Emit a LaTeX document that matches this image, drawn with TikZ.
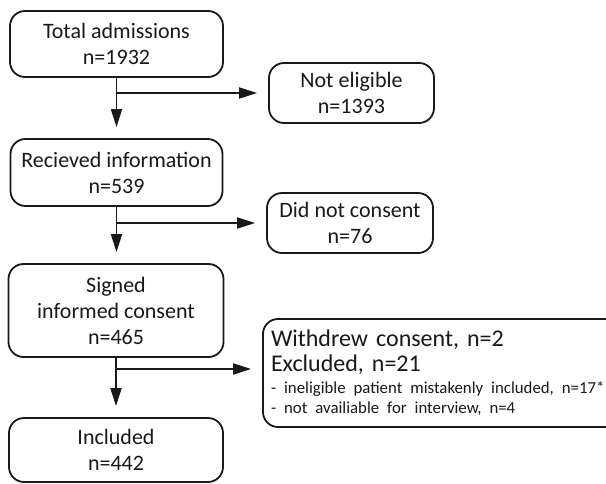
\documentclass[tikz,border=0pt]{standalone}
\usepackage{fontspec}
\setmainfont{Carlito}
\usepackage{tikz}
\usetikzlibrary{arrows.meta,positioning}
\definecolor{flowblack}{RGB}{25,25,25}

\begin{document}
\begin{tikzpicture}[x=0.5pt,y=-0.5pt,
  flowbox/.style={draw=flowblack, line width=0.9pt, rounded corners=7.5pt, align=center, inner sep=0pt, text=flowblack, font=\fontsize{11}{13}\selectfont},
  flowarrow/.style={draw=flowblack, line width=0.9pt, -{Triangle[length=9pt,width=5.5pt]}, shorten >=5.5pt}]
\clip (0,0) rectangle (606,483);
\fill[white] (0,0) rectangle (606,483);
\node[flowbox, minimum width=106.5pt, minimum height=33pt] (total) at (116.5,44) {Total admissions\\n=1932};
\node[flowbox, minimum width=82.5pt, minimum height=30pt] (noteli) at (351.5,93) {Not eligible\\n=1393};
\node[flowbox, minimum width=106pt, minimum height=33.5pt] (recv) at (116.5,172.5) {Recieved information\\n=539};
\node[flowbox, minimum width=83pt, minimum height=30pt] (nocons) at (350,223) {Did not consent\\n=76};
\node[flowbox, minimum width=107.5pt, minimum height=46.5pt] (signed) at (116,310.5) {Signed\\informed consent\\n=465};
\node[flowbox, align=left, text width=200pt, inner xsep=4pt, minimum height=54pt, font=\fontsize{12}{12.5}\selectfont] (withdrew) at (471,373)
  {Withdrew consent, n=2\\Excluded, n=21\\[-1.5pt]{\fontsize{8.4}{10}\selectfont - ineligible patient mistakenly included, n=17*}\\[-2.5pt]{\fontsize{8.4}{10}\selectfont - not availiable for interview, n=4}};
\node[flowbox, minimum width=107pt, minimum height=32pt] (included) at (116,450) {Included\\n=442};
\path (signed.south |- withdrew.west) ++(0,-4) coordinate (wbranch);
\draw[flowarrow] (total.south) -- (total.south |- recv.north);
\draw[flowarrow] (total.south |- noteli.west) -- (noteli.west);
\draw[flowarrow] (recv.south) -- (recv.south |- signed.north);
\draw[flowarrow] (recv.south |- nocons.west) -- (nocons.west);
\draw[flowarrow] (signed.south) -- (signed.south |- included.north);
\draw[flowarrow] (wbranch) -- (wbranch -| withdrew.west);
\end{tikzpicture}
\end{document}
